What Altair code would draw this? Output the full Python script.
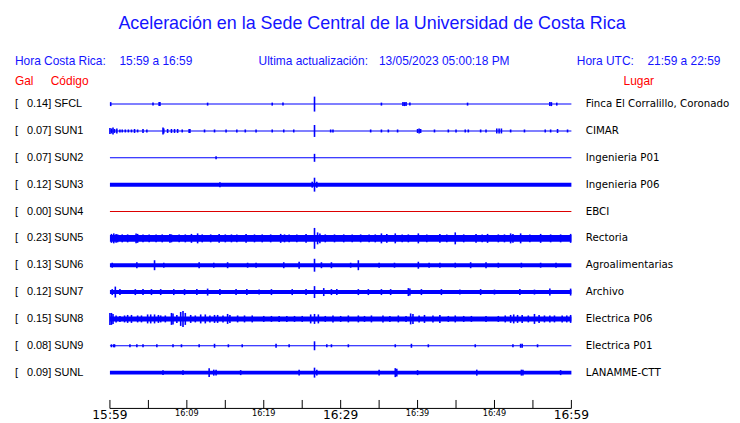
import altair as alt
import pandas as pd

# ---------------- data ----------------
codes = ["SFCL", "SUN1", "SUN2", "SUN3", "SUN4", "SUN5", "SUN6", "SUN7", "SUN8", "SUN9", "SUNL"]
gal = [0.14, 0.07, 0.07, 0.12, 0.00, 0.23, 0.13, 0.12, 0.15, 0.08, 0.09]
places = ["Finca El Corralillo, Coronado", "CIMAR", "Ingenieria P01", "Ingenieria P06", "EBCI",
          "Rectoria", "Agroalimentarias", "Archivo", "Electrica P06", "Electrica P01", "LANAMME-CTT"]
# background half-amplitude of each trace (pixels of the original drawing)
base_amp = [0.5, 0.5, 0.5, 2, 0.5, 3.5, 2, 2, 2.5, 0.5, 2]
live = [True, True, True, True, False, True, True, True, True, True, True]

# (minutes after 15:59, half-amplitude) of visible bursts
spikes_sfcl = [(0.1, 2), (5.6, 1.5), (6.4, 2), (6.5, 2), (12.7, 1.5), (21.1, 1.5), (22.5, 1.5), (26.6, 7.5),
               (35.3, 1.5), (38.1, 2), (38.3, 2), (38.5, 2), (39.0, 1.5), (46.5, 1.5), (57.2, 2), (57.4, 2), (58.1, 1.5)]
spikes_sun1 = [(0.0, 3), (0.2, 2.5), (0.4, 3.5), (0.6, 2), (0.9, 2.5), (1.3, 1.5), (1.6, 1.5), (2.0, 1.5), (2.4, 1.5),
               (2.8, 1.5), (3.2, 2), (3.6, 1.5), (4.3, 2), (4.8, 1.5), (6.9, 3.5), (7.0, 2.5), (7.5, 2), (8.0, 2),
               (8.4, 2), (8.8, 2), (9.4, 1.5), (10.3, 2), (10.4, 2), (12.3, 1.5), (13.6, 1.5), (15.1, 1.5),
               (16.5, 1.5), (17.6, 1.5), (19.0, 1.5), (21.1, 1.5), (22.6, 1.5), (23.9, 1.5), (26.6, 6), (28.7, 1.5),
               (29.0, 1.5), (33.9, 1.5), (35.3, 1.5), (36.2, 1.5), (37.4, 1.5), (40.0, 2), (40.2, 2.5), (40.4, 2),
               (42.2, 1.5), (44.0, 1.5), (45.0, 1.5), (46.2, 1.5), (46.6, 1.5), (48.2, 1.5), (48.9, 1.5),
               (50.3, 2.5), (50.6, 2.5), (50.9, 2.5), (52.1, 1.5), (53.9, 1.5), (56.6, 1.5), (57.3, 1.5),
               (58.2, 2), (59.5, 1.5)]
spikes_sun2 = [(13.8, 1.5), (26.6, 4)]
spikes_sun3 = [(14.3, 2.5), (26.3, 3), (26.6, 7), (26.9, 3)]
spikes_sun4 = []
spikes_sun5 = [(0.2, 4.5), (0.5, 5), (0.8, 4.5), (1.0, 4), (1.6, 4), (2.3, 4), (3.4, 5), (3.6, 4.5), (4.3, 4),
               (5.1, 4), (6.0, 4), (6.8, 4), (7.8, 4.5), (8.0, 4), (9.0, 4), (9.8, 4), (10.6, 4.5), (11.4, 5),
               (12.0, 4), (13.1, 4), (14.2, 4.5), (15.0, 4), (15.8, 4), (16.5, 4), (17.7, 4.5), (18.8, 4),
               (19.8, 4), (20.9, 4), (22.2, 4.5), (22.7, 4), (23.3, 4), (24.3, 4), (25.5, 4.5), (26.6, 10.5),
               (27.0, 6), (27.3, 5), (28.0, 4), (29.2, 4), (30.4, 4), (31.5, 4), (32.6, 4), (33.7, 4),
               (34.5, 4), (35.3, 5), (36.0, 4.5), (37.1, 5), (38.0, 4), (38.8, 4), (40.1, 5), (41.2, 4),
               (42.9, 4.5), (43.8, 4), (44.9, 6), (46.0, 4), (47.6, 4.5), (48.4, 4), (49.1, 4.5), (50.5, 4),
               (51.3, 4), (52.1, 5), (52.4, 4.5), (53.4, 5), (54.6, 4), (56.0, 4.5), (57.3, 4), (58.6, 4),
               (59.9, 4.5)]
spikes_sun6 = [(0.3, 2.5), (3.5, 3), (5.8, 5), (7.0, 2.5), (11.6, 3), (13.5, 2.5), (15.3, 3), (17.9, 2.5),
               (19.0, 2.5), (22.6, 3), (24.6, 3.5), (26.6, 6.5), (27.5, 3), (28.8, 3), (31.3, 2.5), (32.3, 5),
               (35.0, 2.5), (37.0, 2.5), (40.1, 3.5), (41.5, 2.5), (42.9, 2.5), (44.9, 2.5), (46.9, 3), (48.9, 3),
               (50.5, 2.5), (53.5, 2.5), (56.0, 2.5), (58.0, 2.5)]
spikes_sun7 = [(0.3, 3), (0.7, 5.5), (1.3, 3), (3.3, 3), (4.3, 3), (5.4, 3), (6.6, 3), (8.3, 3), (9.7, 3),
               (11.3, 3), (12.7, 3.5), (14.3, 3), (16.4, 3), (17.8, 3), (19.4, 2.5), (21.0, 3), (23.7, 3),
               (25.5, 3), (26.6, 6), (27.8, 4), (28.8, 3), (29.5, 3), (32.3, 3), (33.6, 3), (35.3, 3), (36.5, 3),
               (38.8, 4), (39.0, 3.5), (40.5, 3), (43.1, 3), (45.5, 2.5), (48.2, 3), (50.0, 2.5), (53.3, 3),
               (55.2, 2.5), (57.2, 3.5), (59.9, 3.5)]
spikes_sun8 = [(0.0, 6), (0.2, 6), (0.4, 5), (0.8, 3.5), (1.3, 3), (1.9, 3.5), (2.3, 4), (2.8, 4), (3.6, 3.5),
               (4.1, 3.5), (4.9, 4.5), (5.3, 4.5), (5.8, 4.5), (6.3, 4), (6.6, 3.5), (7.2, 3.5), (8.0, 6), (8.2, 5.5),
               (8.7, 4), (9.2, 7), (9.5, 8), (9.8, 6), (10.5, 4), (11.1, 3.5), (11.8, 4.5), (12.4, 4.5), (13.0, 3.5),
               (13.6, 4), (14.0, 4), (14.7, 3.5), (15.3, 5), (15.6, 4), (16.6, 3.5), (17.5, 3.5), (18.5, 3.5),
               (20.0, 3), (21.0, 3), (22.0, 3), (23.0, 3), (24.0, 3), (25.0, 3), (26.1, 4.5), (26.6, 5),
               (27.1, 4.5), (28.0, 3), (29.0, 3.5), (30.0, 3), (31.0, 3.5), (32.3, 3.5), (33.1, 3), (34.0, 3.5),
               (35.5, 3.5), (36.4, 3), (37.5, 3.5), (38.5, 3), (39.1, 5.5), (39.4, 5), (40.2, 3.5), (40.9, 4),
               (42.0, 3.5), (42.9, 4), (44.0, 3), (44.9, 3.5), (46.0, 3), (47.0, 3), (48.9, 3), (50.5, 3),
               (51.4, 3.5), (52.1, 4), (52.5, 4.5), (53.0, 4), (53.6, 4), (54.4, 3.5), (55.2, 5), (55.8, 4),
               (56.5, 3.5), (57.2, 3.5), (57.8, 3.5), (58.8, 3.5), (59.4, 3.5), (59.9, 4)]
spikes_sun9 = [(0.2, 1.5), (0.5, 1.5), (0.6, 1.5), (2.6, 1.5), (3.5, 1.5), (4.3, 1.5), (6.1, 1.5), (8.2, 1.5),
               (9.3, 1.5), (11.6, 1.5), (13.6, 2), (15.4, 1.5), (17.2, 1.5), (21.6, 2), (23.3, 1.5), (26.6, 4.5),
               (28.2, 1.5), (28.8, 1.5), (31.0, 1.5), (37.1, 1.5), (39.2, 2), (41.4, 1.5), (47.5, 1.5),
               (52.4, 1.5), (53.4, 2), (53.6, 2), (55.6, 1.5)]
spikes_sunl = [(6.9, 2.5), (9.5, 2.5), (12.9, 4.5), (13.5, 3), (13.8, 3), (17.0, 2.5), (24.6, 3), (26.6, 5),
               (26.9, 3), (35.0, 3), (37.1, 4.5), (37.3, 4), (40.0, 2.5), (47.7, 3), (53.5, 3), (53.7, 3), (58.6, 2.5)]
spikes_all = [spikes_sfcl, spikes_sun1, spikes_sun2, spikes_sun3, spikes_sun4, spikes_sun5, spikes_sun6,
              spikes_sun7, spikes_sun8, spikes_sun9, spikes_sunl]

tick_minutes = [0, 5, 10, 15, 20, 25, 30, 35, 40, 45, 50, 55, 60]
major_minutes = [0, 30, 60]
major_labels = ["15:59", "16:29", "16:59"]
minor_minutes = [10, 20, 40, 50]
minor_labels = ["16:09", "16:19", "16:39", "16:49"]

# ---------------- layout ----------------
W, H = 728, 414
PX_PER_MIN = 464 / 60.0
X0 = 102.5  # plot x of minute 0
ROW_PX = 27.0
ROW0 = 95.5  # plot y of first trace
xscale = alt.Scale(domain=[-X0 / PX_PER_MIN, (W - X0) / PX_PER_MIN], nice=False, zero=False)
yscale = alt.Scale(domain=[-ROW0 / ROW_PX, (H - ROW0) / ROW_PX], nice=False, zero=False, reverse=True)

BLUE = "#0000ff"
RED = "#dd0000"

base_df = pd.DataFrame({
    "row": list(range(len(codes))),
    "t0": [0] * len(codes),
    "t1": [60] * len(codes),
    "lo": [i - a / ROW_PX for i, a in enumerate(base_amp)],
    "hi": [i + a / ROW_PX for i, a in enumerate(base_amp)],
    "col": [BLUE if l else RED for l in live],
})
rows = []
for i, lst in enumerate(spikes_all):
    for t, a in lst:
        rows.append({"row": i, "t": t, "lo": i - a / ROW_PX, "hi": i + a / ROW_PX})
spk_df = pd.DataFrame(rows)

lab_df = pd.DataFrame({
    "row": list(range(len(codes))),
    "left": [f"{g:.2f}] {c}" for g, c in zip(gal, codes)],
    "br": ["["] * len(codes),
    "place": places,
})

base = alt.Chart(base_df).mark_rect().encode(
    x=alt.X("t0:Q", scale=xscale, axis=None), x2="t1:Q",
    y=alt.Y("lo:Q", scale=yscale, axis=None), y2="hi:Q",
    color=alt.Color("col:N", scale=None),
)
spk = alt.Chart(spk_df).mark_rule(color=BLUE, strokeWidth=1.6).encode(
    x=alt.X("t:Q", scale=xscale, axis=None),
    y=alt.Y("lo:Q", scale=yscale, axis=None), y2="hi:Q",
)
lab_br = alt.Chart(lab_df).mark_text(align="left", baseline="middle", font="Liberation Sans",
                                      fontSize=11, color="black").encode(
    x=alt.value(7), y=alt.Y("row:Q", scale=yscale, axis=None), text="br:N")
lab_left = alt.Chart(lab_df).mark_text(align="left", baseline="middle", font="Liberation Sans",
                                        fontSize=11, color="black").encode(
    x=alt.value(19), y=alt.Y("row:Q", scale=yscale, axis=None), text="left:N")
lab_right = alt.Chart(lab_df).mark_text(align="left", baseline="middle", font="DejaVu Sans",
                                         fontSize=10.3, color="black").encode(
    x=alt.value(581), y=alt.Y("row:Q", scale=yscale, axis=None), text="place:N")

axis_df = pd.DataFrame({"t0": [0], "t1": [60]})
axis_line = alt.Chart(axis_df).mark_rule(color="black", strokeWidth=1).encode(
    x=alt.X("t0:Q", scale=xscale, axis=None), x2="t1:Q", y=alt.value(401.5))
ticks = alt.Chart(pd.DataFrame({"t": tick_minutes})).mark_rule(color="black", strokeWidth=1).encode(
    x=alt.X("t:Q", scale=xscale, axis=None), y=alt.value(393), y2=alt.value(401.5))
major = alt.Chart(pd.DataFrame({"t": major_minutes, "s": major_labels})).mark_text(
    align="center", baseline="alphabetic", font="DejaVu Sans", fontSize=12.3, color="black").encode(
    x=alt.X("t:Q", scale=xscale, axis=None), y=alt.value(412), text="s:N")
minor = alt.Chart(pd.DataFrame({"t": minor_minutes, "s": minor_labels})).mark_text(
    align="center", baseline="alphabetic", font="DejaVu Sans", fontSize=8.2, color="black").encode(
    x=alt.X("t:Q", scale=xscale, axis=None), y=alt.value(409), text="s:N")


def txt(s, x, y, size, color, align="left", font="Liberation Sans"):
    return alt.Chart(pd.DataFrame({"s": [s]})).mark_text(
        align=align, baseline="middle", font=font, fontSize=size, color=color).encode(
        x=alt.value(x), y=alt.value(y), text="s:N")


TB = "#1414ff"
header = [
    txt("Aceleración en la Sede Central de la Universidad de Costa Rica", 366, 15, 18, TB, align="center"),
    txt("Hora Costa Rica:", 7, 52, 12, TB),
    txt("15:59 a 16:59", 112, 52, 12, TB),
    txt("Ultima actualización:", 252, 52, 12, TB),
    txt("13/05/2023 05:00:18 PM", 373, 52, 12, TB),
    txt("Hora UTC:", 572, 52, 12, TB),
    txt("21:59 a 22:59", 643, 52, 12, TB),
    txt("Gal", 7, 72, 12, "#ff0000"),
    txt("Código", 43, 72, 12, "#ff0000"),
    txt("Lugar", 619, 72, 12, "#ff0000"),
]

chart = alt.layer(base, spk, lab_br, lab_left, lab_right, axis_line, ticks, major, minor, *header).properties(
    width=W, height=H, autosize="none", padding=0, background="white"
).configure_view(stroke=None)

chart.save("out.html", embed_options={"renderer": "svg", "actions": False})
